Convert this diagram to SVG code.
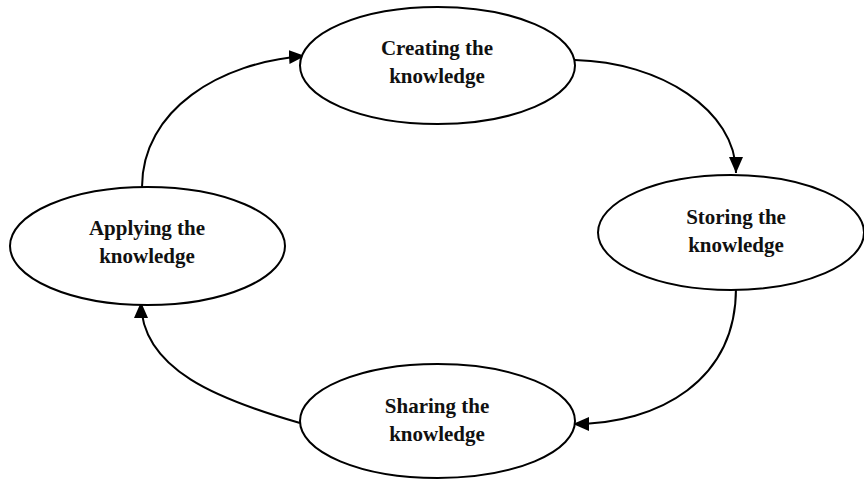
<svg xmlns="http://www.w3.org/2000/svg" width="864" height="480" viewBox="0 0 864 480">
<style>
.node ellipse{fill:#fff;stroke:#000;stroke-width:2}
.node text{font-family:"Liberation Serif","Times New Roman",serif;font-weight:bold;font-size:21px;fill:#111;text-anchor:middle}
.edge{fill:none;stroke:#000;stroke-width:2}
</style>
<defs>
<marker id="arr" markerUnits="userSpaceOnUse" markerWidth="17" markerHeight="15" refX="16" refY="7" orient="auto">
<path d="M0,0 L16,7 L0,14 z" fill="#000"/>
</marker>
</defs>
<rect width="864" height="480" fill="#fff"/>
<g id="connectors">
<path class="edge" d="M575,60 C660,62 736,110 736,173" marker-end="url(#arr)"/>
<path class="edge" d="M736,288 C736,380 660,424 573,424" marker-end="url(#arr)"/>
<path class="edge" d="M300,423 C220,400 141,370 141,302" marker-end="url(#arr)"/>
<path class="edge" d="M142,187 C142,110 220,62 305,56" marker-end="url(#arr)"/>
</g>
<g id="creating" class="node">
<ellipse cx="437.5" cy="65.5" rx="137.5" ry="58.5"/>
<text x="437" y="55">Creating the</text>
<text x="437" y="83">knowledge</text>
</g>
<g id="storing" class="node">
<ellipse cx="731" cy="232.5" rx="133" ry="57.5"/>
<text x="736" y="224">Storing the</text>
<text x="736" y="252">knowledge</text>
</g>
<g id="sharing" class="node">
<ellipse cx="437.5" cy="421" rx="137.5" ry="57"/>
<text x="437" y="413">Sharing the</text>
<text x="437" y="441">knowledge</text>
</g>
<g id="applying" class="node">
<ellipse cx="147.5" cy="246" rx="137.5" ry="59"/>
<text x="147" y="235">Applying the</text>
<text x="147" y="263">knowledge</text>
</g>
</svg>
